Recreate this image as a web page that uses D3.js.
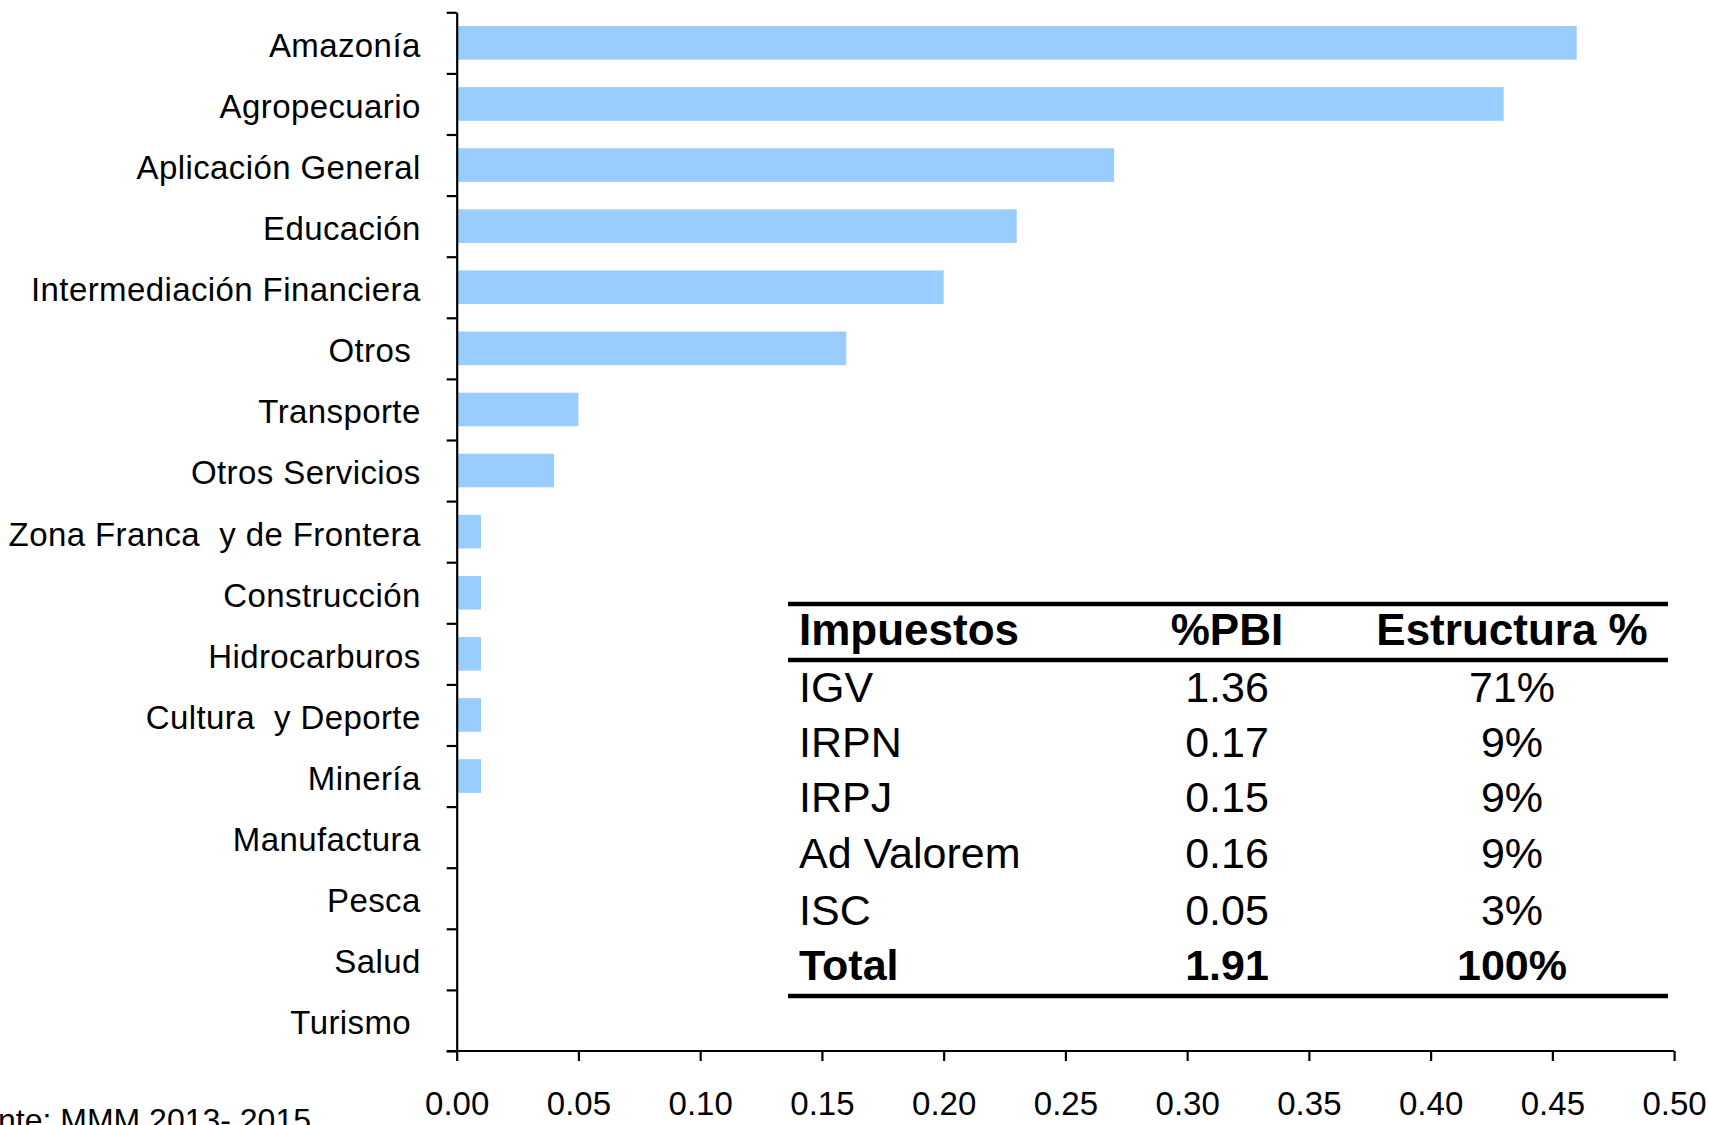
<!DOCTYPE html>
<html>
<head>
<meta charset="utf-8">
<script src="https://cdn.jsdelivr.net/npm/d3@7"></script>
<style>
  body { margin: 0; background: #fff; }
  svg { display: block; font-family: "Liberation Sans", Arial, sans-serif; }
  .cat text { white-space: pre; }
</style>
</head>
<body>
<svg id="chart"></svg>
<script>
// sectores (de arriba hacia abajo) y gasto tributario en % del PBI
const sectors = ["Amazonía", "Agropecuario", "Aplicación General", "Educación",
  "Intermediación Financiera", "Otros ", "Transporte", "Otros Servicios",
  "Zona Franca  y de Frontera", "Construcción", "Hidrocarburos", "Cultura  y Deporte",
  "Minería", "Manufactura", "Pesca", "Salud", "Turismo "];
const values = [0.46, 0.43, 0.27, 0.23, 0.20, 0.16, 0.05, 0.04,
  0.01, 0.01, 0.01, 0.01, 0.01, 0, 0, 0, 0];
const xTicks = [0, 0.05, 0.10, 0.15, 0.20, 0.25, 0.30, 0.35, 0.40, 0.45, 0.50];

// tabla de impuestos
const tableHeader = ["Impuestos", "%PBI", "Estructura %"];
const taxNames = ["IGV", "IRPN", "IRPJ", "Ad Valorem", "ISC", "Total"];
const taxPbi = ["1.36", "0.17", "0.15", "0.16", "0.05", "1.91"];
const taxShare = ["71%", "9%", "9%", "9%", "3%", "100%"];

const sourceNote = "Fuente: MMM 2013- 2015";

const W = 1709, H = 1125;
const plotL = 456.7, plotR = 1674.1, plotT = 12.3, plotB = 1051;

const svg = d3.select("#chart").attr("width", W).attr("height", H);

const x = d3.scaleLinear().domain([0, 0.5]).range([plotL, plotR]);
const y = d3.scaleBand().domain(sectors).range([plotT, plotB])
            .paddingInner(0.45).paddingOuter(0.225);

// barras
svg.append("g")
  .selectAll("rect")
  .data(sectors)
  .enter()
  .append("rect")
  .attr("x", x(0))
  .attr("y", d => y(d))
  .attr("width", (d, i) => x(values[i]) - x(0))
  .attr("height", y.bandwidth())
  .attr("fill", "#99ccff");

// etiquetas de categorias
const catAxis = svg.append("g")
  .attr("class", "cat")
  .attr("transform", `translate(${plotL},0)`)
  .call(d3.axisLeft(y).tickSize(0).tickPadding(36));
catAxis.select(".domain").remove();
catAxis.selectAll("text")
  .attr("font-size", 33)
  .attr("font-family", "Liberation Sans, Arial, sans-serif")
  .attr("letter-spacing", 0.4)
  .attr("fill", "#000")
  .attr("dy", "0.42em");

// eje vertical con marcas entre categorias
const yEdge = d3.scaleLinear().domain([0, sectors.length]).range([plotT, plotB]);
const edgeAxis = svg.append("g")
  .attr("transform", `translate(${plotL},0)`)
  .call(d3.axisLeft(yEdge).tickValues(d3.range(sectors.length + 1))
        .tickFormat("").tickSize(10).tickSizeOuter(0));
edgeAxis.selectAll("line, path").attr("stroke", "#000").attr("stroke-width", 2.2);

// eje horizontal
const xAxis = svg.append("g")
  .attr("transform", `translate(0,${plotB})`)
  .call(d3.axisBottom(x).tickValues(xTicks).tickFormat(d3.format(".2f"))
        .tickSize(10).tickSizeOuter(0).tickPadding(31));
xAxis.select(".domain").attr("d", `M${plotL - 10},0H${plotR}`);
xAxis.selectAll("line, path").attr("stroke", "#000").attr("stroke-width", 2.2);
xAxis.selectAll("text")
  .attr("font-size", 33)
  .attr("font-family", "Liberation Sans, Arial, sans-serif")
  .attr("fill", "#000");

// tabla
const tbl = svg.append("g");
const tx0 = 788, tx1 = 1668;
const colX = [799, 1227, 1512];
const colAnchor = ["start", "middle", "middle"];
const rowBase = [701.7, 756.7, 811.7, 868, 925, 980];

[604, 660, 996].forEach(ly => {
  tbl.append("line")
    .attr("x1", tx0).attr("x2", tx1)
    .attr("y1", ly).attr("y2", ly)
    .attr("stroke", "#000").attr("stroke-width", 4.5);
});

tbl.selectAll("text.head")
  .data(tableHeader)
  .enter()
  .append("text")
  .attr("class", "head")
  .attr("x", (d, i) => colX[i])
  .attr("y", 645)
  .attr("text-anchor", (d, i) => colAnchor[i])
  .attr("font-size", 44)
  .attr("font-weight", "bold")
  .text(d => d);

const rows = taxNames.map((n, i) => [n, taxPbi[i], taxShare[i]]);
rows.forEach((r, ri) => {
  tbl.selectAll(null)
    .data(r)
    .enter()
    .append("text")
    .attr("x", (d, i) => colX[i])
    .attr("y", rowBase[ri])
    .attr("text-anchor", (d, i) => colAnchor[i])
    .attr("font-size", 43)
    .attr("font-weight", ri === rows.length - 1 ? "bold" : "normal")
    .text(d => d);
});

// fuente (cortada por el borde como en el original)
svg.append("text")
  .attr("x", 311)
  .attr("y", 1131)
  .attr("text-anchor", "end")
  .attr("font-size", 32)
  .text(sourceNote);
</script>
</body>
</html>
